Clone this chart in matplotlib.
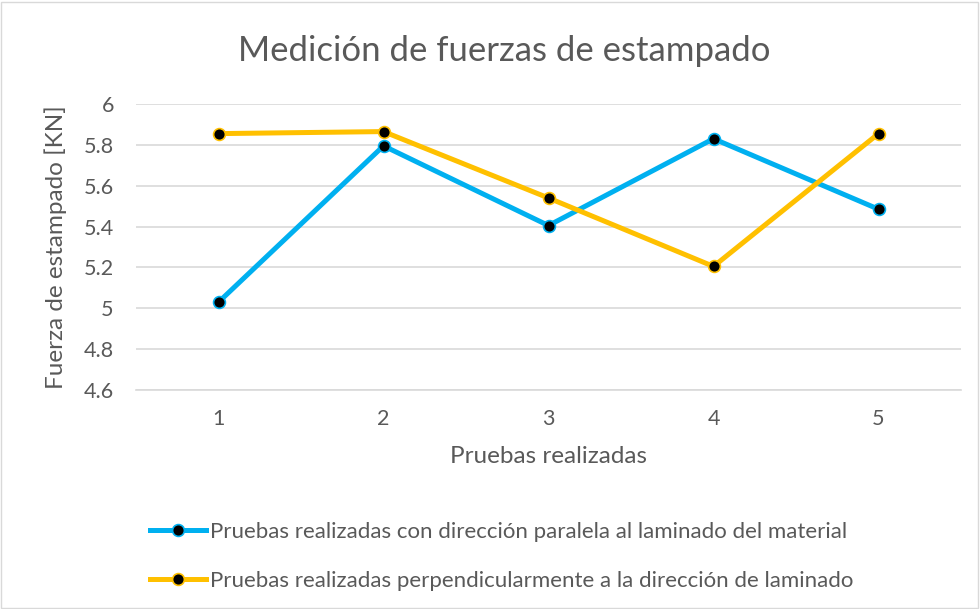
import matplotlib
matplotlib.use("Agg")
import matplotlib.pyplot as plt
from matplotlib.patches import Rectangle

# Datos de las pruebas de estampado
pruebas = [1, 2, 3, 4, 5]
fuerza_paralela = [5.03, 5.795, 5.405, 5.83, 5.485]
fuerza_perpendicular = [5.855, 5.865, 5.54, 5.205, 5.855]
yticks = [4.6, 4.8, 5.0, 5.2, 5.4, 5.6, 5.8, 6.0]
ytick_labels = ["4.6", "4.8", "5", "5.2", "5.4", "5.6", "5.8", "6"]

label_par = "Pruebas realizadas con dirección paralela al laminado del material"
label_perp = "Pruebas realizadas perpendicularmente a la dirección de laminado"

AZUL = "#00B0F0"
NARANJA = "#FFC000"
GRIS_TEXTO = "#595959"

plt.rcParams["font.family"] = ["Lato", "DejaVu Sans"]

W, H = 980, 609
fig = plt.figure(figsize=(W / 100, H / 100), dpi=100)
fig.patch.set_facecolor("white")

# plot area in pixel coords
left, right, top, bottom = 136, 961, 104, 390
ax = fig.add_axes([left / W, 1 - bottom / H, (right - left) / W, (bottom - top) / H])

ax.plot(pruebas, fuerza_paralela, color=AZUL, lw=3.6, marker="o", ms=8.5,
        mfc="black", mec=AZUL, mew=1.2, label=label_par, solid_joinstyle="round")
ax.plot(pruebas, fuerza_perpendicular, color=NARANJA, lw=3.6, marker="o", ms=8.5,
        mfc="black", mec=NARANJA, mew=1.2, label=label_perp, solid_joinstyle="round")

ax.set_xlim(0.5, 5.5)
ax.set_ylim(4.6, 6.0)
ax.set_xticks(pruebas)
ax.set_yticks(yticks)
ax.set_yticklabels(ytick_labels)
ax.tick_params(length=0, labelsize=15.5, colors=GRIS_TEXTO)
ax.tick_params(axis="y", pad=16)
ax.tick_params(axis="x", pad=14)
ax.grid(axis="y", color="#D9D9D9", lw=1.2)
ax.set_axisbelow(True)
for s in ["top", "right", "left"]:
    ax.spines[s].set_visible(False)
ax.spines["bottom"].set_color("#D9D9D9")
ax.spines["bottom"].set_linewidth(1.2)

ax.set_xlabel("Pruebas realizadas", fontsize=17.5, color=GRIS_TEXTO, labelpad=12)
ax.set_ylabel("Fuerza de estampado [KN]", fontsize=17.5, color=GRIS_TEXTO, labelpad=12)

fig.text(504 / W, 1 - 51 / H, "Medición de fuerzas de estampado", fontsize=25,
         color=GRIS_TEXTO, ha="center", va="center")

leg = fig.legend(loc="upper left", bbox_to_anchor=(150 / W, 1 - 522 / H),
                 frameon=False, fontsize=16, handlelength=2.5, handletextpad=0.22,
                 labelspacing=1.3, labelcolor=GRIS_TEXTO, borderaxespad=0,
                 borderpad=0)

# marco exterior del gráfico
fig.patches.append(Rectangle((1 / W, 1 / H), (W - 3) / W, (H - 3) / H,
                             transform=fig.transFigure, fill=False,
                             edgecolor="#D9D9D9", lw=1))

fig.savefig("out.png", dpi=100)
